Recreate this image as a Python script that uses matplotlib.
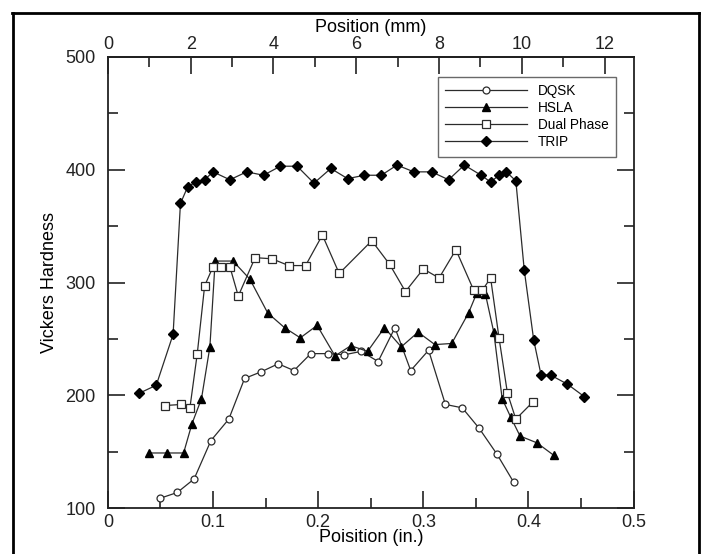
import matplotlib
matplotlib.use("Agg")
import matplotlib.pyplot as plt
from matplotlib.lines import Line2D
from matplotlib.ticker import MultipleLocator

plt.rcParams['font.family'] = ['Liberation Sans', 'DejaVu Sans']

# ---- data (position in inches, Vickers hardness) ----
dqsk_x = [0.050, 0.066, 0.082, 0.098, 0.115, 0.130, 0.146, 0.162, 0.177, 0.193, 0.209,
          0.225, 0.241, 0.257, 0.273, 0.288, 0.305, 0.321, 0.337, 0.353, 0.370, 0.386]
dqsk_y = [109, 114, 126, 160, 179, 215, 221, 228, 222, 237, 237,
          236, 239, 230, 260, 222, 240, 192, 189, 171, 148, 123]

hsla_x = [0.039, 0.056, 0.072, 0.080, 0.089, 0.097, 0.102, 0.119, 0.135, 0.152, 0.168,
          0.183, 0.199, 0.216, 0.231, 0.247, 0.263, 0.279, 0.295, 0.311, 0.327, 0.343,
          0.351, 0.359, 0.367, 0.375, 0.383, 0.392, 0.408, 0.424]
hsla_y = [149, 149, 149, 175, 197, 243, 319, 319, 303, 273, 260,
          251, 262, 235, 244, 239, 260, 243, 256, 245, 246, 273,
          291, 290, 256, 197, 181, 164, 158, 147]

dp_x = [0.054, 0.070, 0.078, 0.085, 0.092, 0.100, 0.108, 0.116, 0.124, 0.140, 0.156,
        0.172, 0.188, 0.204, 0.220, 0.251, 0.268, 0.283, 0.300, 0.315, 0.331, 0.348,
        0.356, 0.364, 0.372, 0.380, 0.388, 0.404]
dp_y = [191, 192, 189, 237, 297, 314, 314, 314, 288, 322, 321,
        315, 315, 342, 308, 337, 316, 292, 312, 304, 329, 293,
        293, 304, 251, 202, 179, 194]

trip_x = [0.030, 0.046, 0.062, 0.069, 0.076, 0.084, 0.092, 0.100, 0.116, 0.132, 0.148,
          0.164, 0.180, 0.196, 0.212, 0.228, 0.244, 0.260, 0.275, 0.291, 0.308, 0.324,
          0.339, 0.355, 0.364, 0.372, 0.379, 0.388, 0.396, 0.405, 0.412, 0.421, 0.437, 0.453]
trip_y = [202, 209, 254, 370, 385, 389, 391, 398, 391, 398, 395,
          403, 403, 388, 401, 392, 395, 395, 404, 398, 398, 391,
          404, 395, 389, 395, 398, 390, 311, 249, 218, 218, 210, 199]

x_ticks = [0, 0.1, 0.2, 0.3, 0.4, 0.5]
y_ticks = [100, 200, 300, 400, 500]
mm_ticks = [0, 2, 4, 6, 8, 10, 12]

line_col = '#2b2b2b'
W, H = 703, 554
fig = plt.figure(figsize=(W / 100, H / 100), dpi=100)
fig.patch.set_facecolor('white')

L, R, T, B = 107.9, 633.6, 56.7, 508.3
ax = fig.add_axes([L / W, 1 - B / H, (R - L) / W, (B - T) / H])

kw = dict(color=line_col, lw=0.9)
ax.plot(dqsk_x, dqsk_y, marker='o', ms=5, mfc='white', mec=line_col, mew=0.9, label='DQSK', **kw)
ax.plot(hsla_x, hsla_y, marker='^', ms=5.5, mfc='black', mec='black', label='HSLA', **kw)
ax.plot(dp_x, dp_y, marker='s', ms=5.3, mfc='white', mec=line_col, mew=0.9, label='Dual Phase', **kw)
ax.plot(trip_x, trip_y, marker='D', ms=5, mfc='black', mec='black', label='TRIP', **kw)

ax.set_xlim(0, 0.5)
ax.set_ylim(100, 500)
ax.set_xticks(x_ticks)
ax.set_xticklabels(['0', '0.1', '0.2', '0.3', '0.4', '0.5'])
ax.set_yticks(y_ticks)
ax.xaxis.set_minor_locator(MultipleLocator(0.05))
ax.yaxis.set_minor_locator(MultipleLocator(50))
ax.tick_params(which='both', direction='in', right=True, labelsize=13, colors='#222222', width=1.2)
ax.tick_params(which='major', length=12)
ax.tick_params(which='minor', length=7)
ax.tick_params(axis='y', pad=9)
ax.tick_params(axis='x', pad=4)
for s in ax.spines.values():
    s.set_linewidth(1.3)
    s.set_color('#222222')

ax.set_xlabel('Poisition (in.)', fontsize=13, labelpad=-1)
ax.set_ylabel('Vickers Hardness', fontsize=13, labelpad=5)

sec = ax.secondary_xaxis('top', functions=(lambda v: v * 25.4, lambda v: v / 25.4))
sec.set_xticks(mm_ticks)
sec.xaxis.set_minor_locator(MultipleLocator(1))
sec.tick_params(which='both', direction='in', labelsize=13, colors='#222222', width=1.2, pad=2.5)
sec.tick_params(which='major', length=12)
sec.tick_params(which='minor', length=7)
sec.spines['top'].set_linewidth(1.3)
sec.set_xlabel('Position (mm)', fontsize=13, labelpad=3)

leg = ax.legend(loc='upper right', bbox_to_anchor=(0.9665, 0.9557), borderaxespad=0,
                fontsize=9.8, frameon=True, fancybox=False, handlelength=6.0,
                labelspacing=0.22, borderpad=0.55, handletextpad=0.8)
leg.get_frame().set_edgecolor('#444444')
leg.get_frame().set_linewidth(1.0)

# scan frame border
fig.add_artist(Line2D([12 / W, 699 / W], [1 - 12.5 / H, 1 - 12.5 / H], color='black', lw=2))
fig.add_artist(Line2D([12.5 / W, 12.5 / W], [0, 1 - 12.5 / H], color='black', lw=2))
fig.add_artist(Line2D([699 / W, 699 / W], [0, 1 - 12.5 / H], color='black', lw=2))

fig.savefig('out.png', dpi=100)
